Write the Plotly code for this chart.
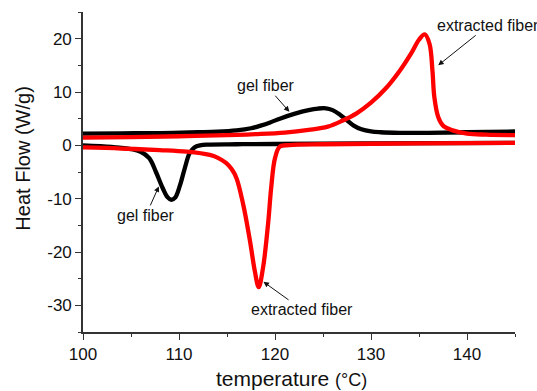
import plotly.graph_objects as go

# gel fiber, heating (upper black)
gel_up_T = [100, 104, 108, 112, 114, 116, 117.5, 118.5, 119.5, 120.5, 122, 123.5, 124.5, 125.3, 126, 126.8, 127.5, 128.2, 129, 130, 131, 133, 136, 140, 145]
gel_up_V = [2.2, 2.25, 2.3, 2.45, 2.55, 2.8, 3.2, 3.7, 4.3, 5.0, 5.9, 6.6, 6.9, 6.95, 6.6, 5.7, 4.7, 3.7, 3.0, 2.6, 2.45, 2.35, 2.35, 2.45, 2.6]

# gel fiber, cooling (lower black)
gel_lo_T = [100, 103, 105, 106, 106.9, 107.6, 108.3, 108.8, 109.2, 109.6, 110.1, 110.6, 111.1, 111.6, 112.2, 113, 116, 120, 130, 145]
gel_lo_V = [0.0, -0.3, -0.7, -1.2, -2.4, -5.0, -8.0, -9.7, -10.2, -9.8, -7.5, -4.3, -1.5, -0.4, 0.0, 0.15, 0.2, 0.25, 0.35, 0.45]

# extracted fiber, heating (upper red)
ext_up_T = [100, 105, 110, 115, 118, 121, 123.5, 125.5, 127, 128.5, 130, 131.5, 133, 134.2, 135, 135.6, 136.1, 136.4, 136.6, 137.0, 137.5, 138.5, 140, 142, 145]
ext_up_V = [1.45, 1.55, 1.7, 1.9, 2.1, 2.4, 2.9, 3.5, 4.6, 6.0, 8.0, 10.6, 14.0, 17.3, 19.8, 20.8, 19.0, 14.0, 9.0, 5.3, 3.7, 2.8, 2.2, 2.0, 1.9]

# extracted fiber, cooling (lower red)
ext_lo_T = [100, 104, 108, 110.8, 113.2, 114.0, 114.9, 115.5, 116, 116.7, 117.4, 117.9, 118.3, 118.75, 119.3, 119.6, 120, 120.5, 121.5, 125, 130, 140, 145]
ext_lo_V = [-0.4, -0.6, -0.9, -1.2, -1.8, -2.3, -3.3, -4.5, -6.2, -11.2, -18, -23.6, -26.6, -23, -14.3, -8, -2.4, -0.25, 0.05, 0.2, 0.3, 0.4, 0.45]

x_ticks = [100, 110, 120, 130, 140]
y_ticks = [-30, -20, -10, 0, 10, 20]
y_tick_text = ["-30", "-20", "-10", "0", "10", "20"]

FONT = "Arial, Liberation Sans, Helvetica, sans-serif"

fig = go.Figure()
for T, V, c in [(gel_up_T, gel_up_V, "#000000"), (gel_lo_T, gel_lo_V, "#000000"),
                (ext_up_T, ext_up_V, "#ff0000"), (ext_lo_T, ext_lo_V, "#ff0000")]:
    fig.add_trace(go.Scatter(x=T, y=V, mode="lines",
                             line=dict(color=c, width=4.3, shape="spline", smoothing=1.0),
                             showlegend=False, hoverinfo="skip"))

ann_common = dict(showarrow=True, arrowhead=2, arrowsize=1.1, arrowwidth=1,
                  arrowcolor="#111", font=dict(family=FONT, size=16, color="#111"),
                  xref="x", yref="y")
fig.add_annotation(x=121.5, y=6.3, ax=-23, ay=-26, text="gel fiber", **ann_common)
fig.add_annotation(x=137.0, y=15.0, ax=50, ay=-40, text="extracted fiber", **ann_common)
fig.add_annotation(x=107.9, y=-7.7, ax=-13, ay=29, text="gel fiber", **ann_common)
fig.add_annotation(x=118.8, y=-25.6, ax=39, ay=28, text="extracted fiber", **ann_common)

# axis titles
fig.add_annotation(xref="paper", yref="paper", x=-0.139, y=0.5416, showarrow=False,
                   textangle=-90, xanchor="center", yanchor="middle",
                   text="Heat Flow (W/g)", font=dict(family=FONT, size=20, color="#111"))
fig.add_annotation(xref="paper", yref="paper", x=0.4826, y=-0.14375, showarrow=False,
                   xanchor="center", yanchor="middle",
                   text="temperature <span style='font-size:18px'>(°C)</span>",
                   font=dict(family=FONT, size=21, color="#111"))

axis_common = dict(showline=True, linecolor="#333", linewidth=1.6, ticks="outside",
                   ticklen=6, tickwidth=1.4, tickcolor="#333", showgrid=False, zeroline=False,
                   tickfont=dict(family=FONT, size=17, color="#111"), mirror=False,
                   automargin=False)

fig.update_xaxes(range=[100, 145], tickvals=x_ticks,
                 minor=dict(dtick=5, tick0=100, ticks="outside", ticklen=3, tickwidth=1.4, tickcolor="#333"),
                 **axis_common)
fig.update_yaxes(range=[-35, 25], tickvals=y_ticks, ticktext=y_tick_text,
                 minor=dict(dtick=5, tick0=0, ticks="outside", ticklen=3, tickwidth=1.4, tickcolor="#333"),
                 **axis_common)

fig.update_layout(width=537, height=391, margin=dict(l=83, r=22, t=12, b=59, autoexpand=False),
                  plot_bgcolor="white", paper_bgcolor="white")

fig.write_html("out.html")
